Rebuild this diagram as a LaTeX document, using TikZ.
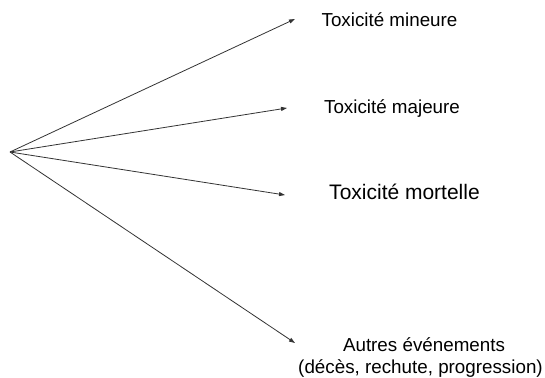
\documentclass[tikz,border=0pt]{standalone}
\usepackage{fontspec}
\setmainfont{Liberation Sans}
\usetikzlibrary{arrows.meta}
\begin{document}
\begin{tikzpicture}[x=1pt,y=-1pt,
  conn/.style={draw=black!80, line width=0.8pt, -{Triangle[length=6pt,width=4pt]}},
  lbl/.style={anchor=base, inner sep=0pt, font=\fontsize{18.8}{22}\selectfont},
  lblbig/.style={anchor=base, inner sep=0pt, font=\fontsize{21}{25}\selectfont}]
\useasboundingbox (0,0) rectangle (545,377);
\coordinate (o) at (10,152);
\coordinate (t1) at (295,19);
\coordinate (t2) at (287,108);
\coordinate (t3) at (285,195);
\coordinate (t4) at (295,343);
\draw[conn] (o) -- (t1);
\draw[conn] (o) -- (t2);
\draw[conn] (o) -- (t3);
\draw[conn] (o) -- (t4);
\node[lbl] (n1) at (389.5,27) {Toxicité mineure};
\node[lbl] (n2) at (392,113.5) {Toxicité majeure};
\node[lblbig] (n3) at (404.5,199) {Toxicité mortelle};
\node[lbl] (n4) at (424,351) {Autres événements};
\node[lbl] (n5) at (420.5,373) {(décès, rechute, progression)};
\end{tikzpicture}
\end{document}
